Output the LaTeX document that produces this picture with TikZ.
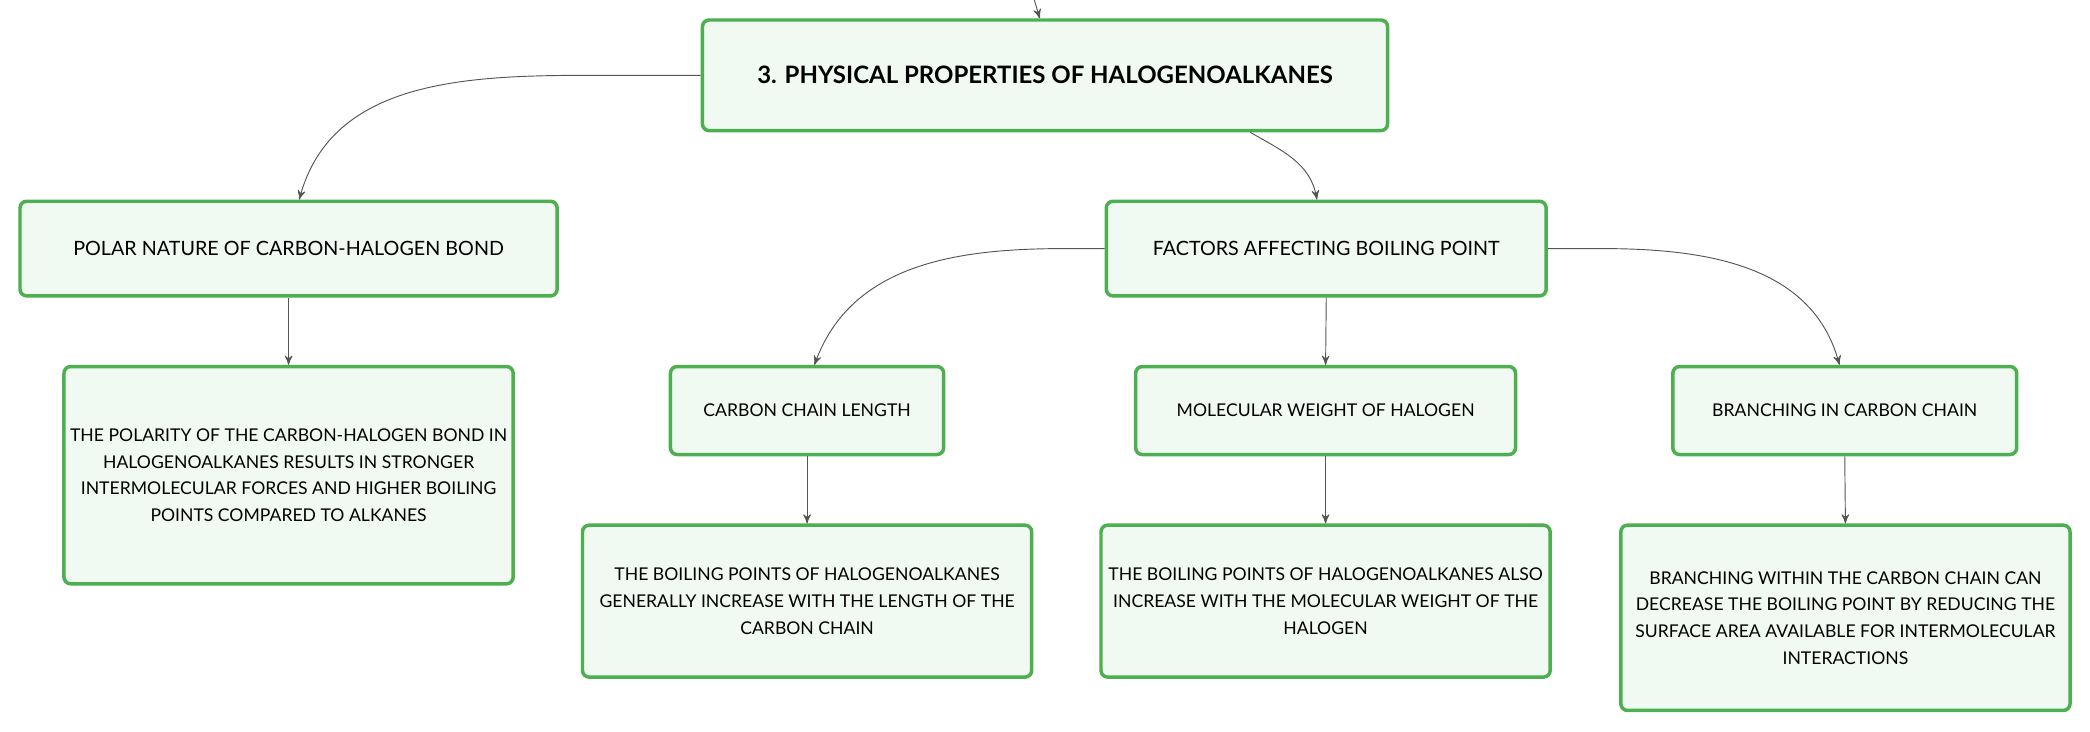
\documentclass[tikz,border=0pt]{standalone}
\usepackage{tikz}
\usepackage{fontspec}
\setmainfont{Lato}
\usetikzlibrary{arrows}

\definecolor{boxgreen}{HTML}{4CAF50}
\definecolor{boxfill}{HTML}{F1F9F3}
\definecolor{linegray}{HTML}{555555}

\begin{document}
\begin{tikzpicture}[x=0.5pt, y=0.5pt, >=stealth',
    box/.style={draw=boxgreen, fill=boxfill, line width=1.3pt, rounded corners=2.5pt,
        align=center, inner sep=2pt, font=\fontsize{6.6}{10}\selectfont},
    mainbox/.style={box, font=\fontsize{7.4}{10}\selectfont},
    conn/.style={draw=linegray, line width=0.35pt, ->}]

\useasboundingbox (0, 0) rectangle (1568, -549);
%\draw[xstep=100,ystep=100,color=gray!80] (0, -549) grid (1568, 0);

\node[box, minimum width=257pt, minimum height=41.5pt, font=\fontsize{9}{12}\selectfont\bfseries] (root) at (784, -56.5) {3. PHYSICAL PROPERTIES OF HALOGENOALKANES};

\node[mainbox, minimum width=201.5pt, minimum height=35.5pt] (polar) at (216.5, -186.5) {POLAR NATURE OF CARBON-HALOGEN BOND};
\node[mainbox, minimum width=165pt, minimum height=35.5pt] (factors) at (995, -186.5) {FACTORS AFFECTING BOILING POINT};

\node[box, minimum width=102.5pt, minimum height=33pt] (chain) at (605.5, -308) {CARBON CHAIN LENGTH};
\node[box, minimum width=142.5pt, minimum height=33pt] (molw) at (994.5, -308) {MOLECULAR WEIGHT OF HALOGEN};
\node[box, minimum width=129pt, minimum height=33pt] (branch) at (1384, -308) {BRANCHING IN CARBON CHAIN};

\node[box, minimum width=168.5pt, minimum height=81.5pt] (polard) at (216.5, -356.5) {THE POLARITY OF THE CARBON-HALOGEN BOND IN\\ HALOGENOALKANES RESULTS IN STRONGER\\ INTERMOLECULAR FORCES AND HIGHER BOILING\\ POINTS COMPARED TO ALKANES};
\node[box, minimum width=168.5pt, minimum height=57pt] (chaind) at (605.5, -451) {THE BOILING POINTS OF HALOGENOALKANES\\ GENERALLY INCREASE WITH THE LENGTH OF THE\\ CARBON CHAIN};
\node[box, minimum width=168.5pt, minimum height=57pt] (molwd) at (994.5, -451) {THE BOILING POINTS OF HALOGENOALKANES ALSO\\ INCREASE WITH THE MOLECULAR WEIGHT OF THE\\ HALOGEN};
\node[box, minimum width=168.5pt, minimum height=69.5pt] (branchd) at (1384.5, -463.5) {BRANCHING WITHIN THE CARBON CHAIN CAN\\ DECREASE THE BOILING POINT BY REDUCING THE\\ SURFACE AREA AVAILABLE FOR INTERMOLECULAR\\ INTERACTIONS};

\coordinate (top) at (776, 0);

\draw[conn] (top) -- ([xshift=-2pt]root.north);
\draw[conn] (root.west) -- ++(-77, 0) to[out=180, in=75] ([xshift=4pt]polar.north);
\draw[conn] ([xshift=77pt]root.south) to[out=-30, in=100] ([xshift=-3.5pt]factors.north);

\draw[conn] (factors.west) -- ++(-30, 0) to[out=180, in=70] ([xshift=2.75pt]chain.north);
\draw[conn] (factors.south) -- (molw.north);
\draw[conn] (factors.east) -- ++(40, 0) to[out=0, in=105] ([xshift=-2pt]branch.north);

\foreach \a/\b in {polar/polard, chain/chaind, molw/molwd, branch/branchd}
    \draw[conn] (\a.south) -- (\b.north);

\end{tikzpicture}
\end{document}
